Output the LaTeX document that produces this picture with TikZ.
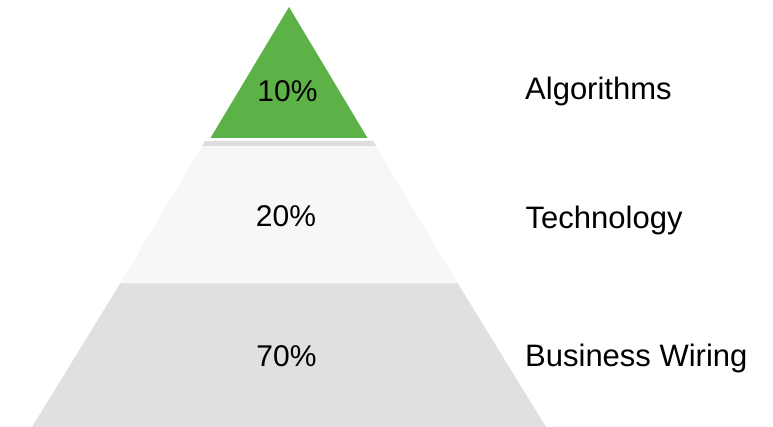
\documentclass[tikz,border=0pt]{standalone}
\usepackage{fontspec}
\setmainfont{Liberation Sans}
\definecolor{pgreen}{HTML}{5CB147}
\definecolor{pmid}{HTML}{F7F7F7}
\definecolor{pstrip}{HTML}{DEDEDE}
\definecolor{pbot}{HTML}{E0E0E0}
\begin{document}
\begin{tikzpicture}[x=1pt,y=-1pt,
  pct/.style={anchor=base,inner sep=0pt,font=\fontsize{30}{36}\selectfont,text=black},
  lbl/.style={anchor=base west,inner sep=0pt,font=\fontsize{31}{37}\selectfont,text=black}]
\useasboundingbox (0,0) rectangle (773,427);
% bands
\fill[pbot] (120.4,283) -- (457.6,283) -- (546,427) -- (32,427) -- cycle;
\fill[pmid] (205,141) -- (373,141) -- (457.6,283.5) -- (120.4,283.5) -- cycle;
\fill[pstrip] (205,141) -- (373,141) -- (376,146) -- (202,146) -- cycle;
\fill[pgreen] (289,7) -- (367.5,138) -- (210.5,138) -- cycle;
% texts
\node[pct] (p10) at (287.5,102) {10\%};
\node[pct] (p20) at (286,227) {20\%};
\node[pct] (p70) at (286.5,366) {70\%};
\node[lbl] (alg) at (525,100) {Algorithms};
\node[lbl] (tech) at (525.5,229) {Technology};
\node[lbl] (bw) at (525,366.5) {Business Wiring};
\end{tikzpicture}
\end{document}
